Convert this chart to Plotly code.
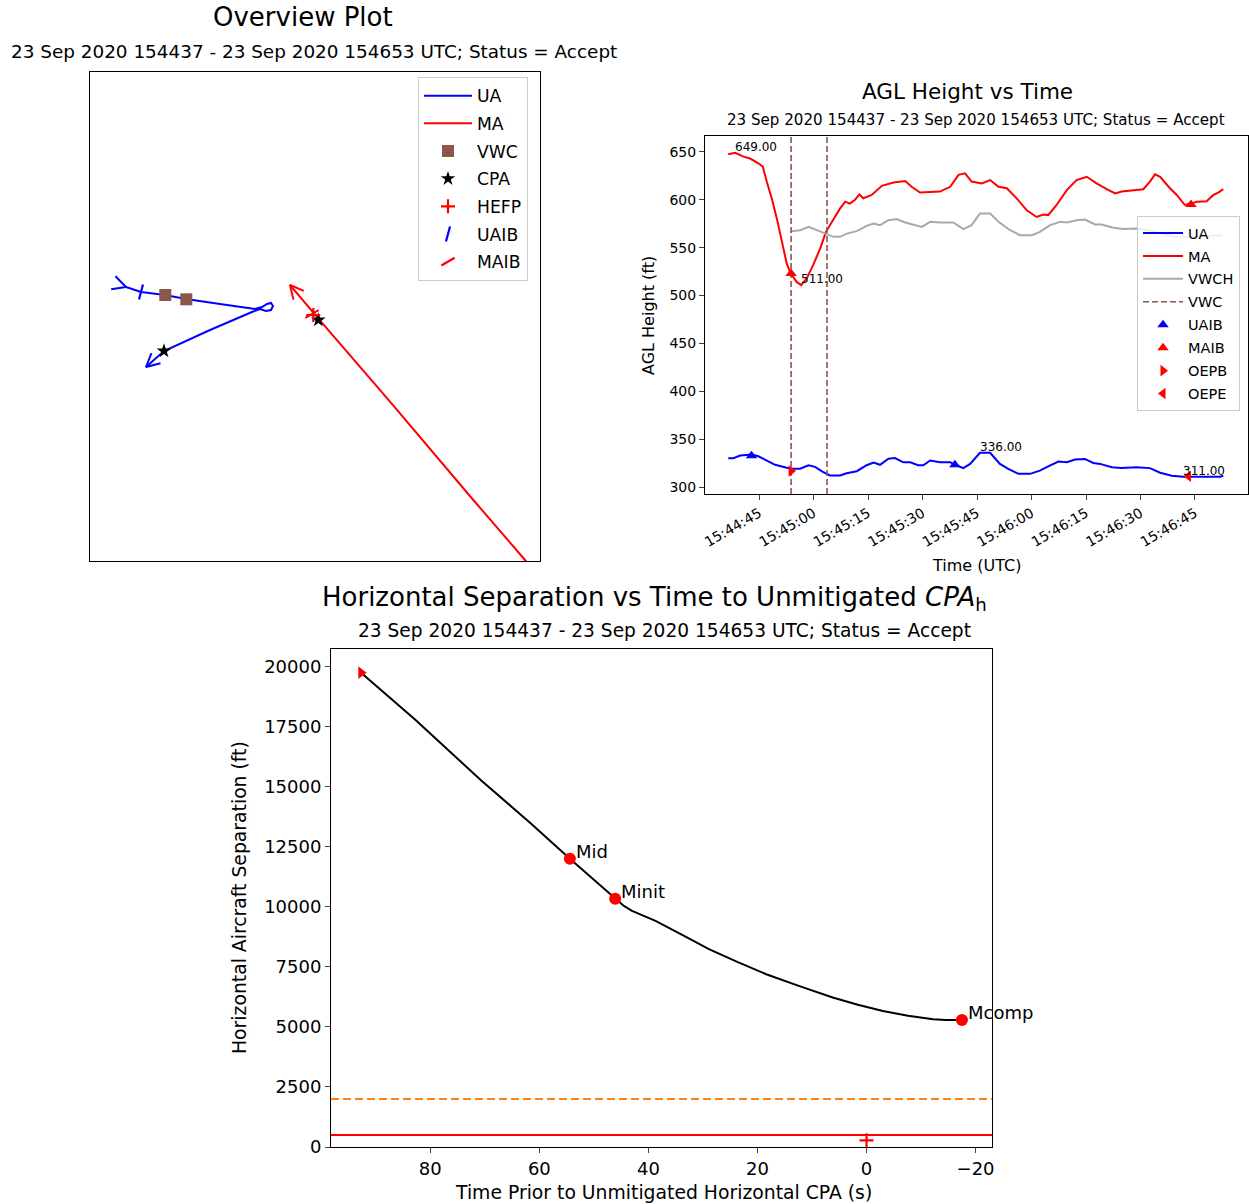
import numpy as np
import pandas as pd
import plotly.graph_objects as go

W, H = 1249, 1204
FONT = "DejaVu Sans"
SUBTITLE = "23 Sep 2020 154437 - 23 Sep 2020 154653 UTC; Status = Accept"

# ---------------- Overview plot data (local ft, east / north) ----------------
ua_x = [370, 520, 760, 970, 1310, 1660, 1730, 1780, 1820, 1840, 1820, 1770, 1710, 1630, 1210, 750, 570]
ua_y = [2740, 2690, 2660, 2620, 2570, 2520, 2540, 2570, 2580, 2550, 2510, 2500, 2520, 2490, 2310, 2100, 1940]
ma_x = [4510, 4360, 3843, 3010, 2277, 2010]
ma_y = [-170, 10, 610, 1593, 2443, 2760]
vwc_x = [763, 973]
vwc_y = [2660, 2617]
cpa_x = [750, 2293]
cpa_y = [2100, 2410]
hefp_x = [2243]
hefp_y = [2460]
uaib_x = [520]
uaib_y = [2690]
maib_x = [2230]
maib_y = [2470]

# ---------------- AGL height vs time data (s after 15:44:45, ft) ----------------
ma_t = [-8.5, -6.6, -4.3, -2.5, -0.2, 1.0, 2.1, 3.5, 4.9, 6.2, 7.6, 8.7, 10.4, 11.6, 13.1, 14.9,
        16.8, 18.4, 20.5, 22.3, 23.7, 25.0, 26.4, 27.6, 28.7, 31.0, 33.8, 37.0, 40.2, 42.0, 44.3,
        49.8, 52.6, 54.9, 56.7, 58.5, 61.3, 63.6, 65.9, 68.2, 70.9, 73.7, 76.4, 78.3, 79.6, 81.9,
        84.7, 87.4, 90.2, 92.9, 95.7, 98.0, 99.8, 103.0, 105.8, 107.6, 109.0, 110.4, 113.1, 115.0,
        117.2, 119.1, 120.5, 123.2, 125.1, 126.4, 127.8]
ma_h = [647.5, 649, 645, 643, 638, 634.5, 619, 601, 580, 556, 533.5, 523, 514, 511, 518, 532,
        549, 566.5, 580.5, 591, 598, 596, 600, 605.5, 601.5, 605, 614.5, 618, 619.5, 613.5, 607.5,
        608.5, 613.5, 626, 627.5, 619, 617, 620.5, 613.5, 612, 601.5, 589, 582, 584.5, 584, 594.5,
        610, 620.5, 624, 617, 611, 606.5, 608.5, 610, 611, 619, 626.5, 624, 612, 605,
        594.5, 596, 598, 598.5, 605, 607.5, 611]
ua_t = [-8.5, -7.1, -5.2, -2.0, -0.2, 2.1, 4.4, 7.6, 9.0, 11.3, 13.6, 15.4, 17.3, 19.5, 22.3, 24.1,
        26.9, 29.6, 31.5, 33.3, 35.6, 37.4, 39.7, 41.6, 43.8, 45.2, 47.1, 49.8, 52.6, 54.0, 56.2,
        58.1, 60.8, 63.6, 66.3, 68.6, 71.4, 74.6, 77.3, 79.6, 82.4, 84.7, 87.0, 89.7, 92.0, 93.9,
        97.1, 99.8, 103.9, 107.6, 110.4, 113.6, 116.8, 119.5, 123.2, 126.9, 127.8]
ua_h = [330.3, 330.3, 333.2, 334.2, 332.4, 328, 323.5, 320.4, 319.4, 319.4, 323, 321.3, 316.6, 312.4, 312.4, 314.7,
        316.8, 323, 325.8, 323.5, 329.8, 330.5, 326.1, 326.1, 323, 323, 328, 326.2, 326.2, 323.5, 320,
        324.4, 336, 336, 324.4, 319.2, 314, 314, 317.4, 321.9, 326.8, 326.1, 328.9, 329.6, 325.4, 324.4,
        321, 320, 321, 320, 315.2, 312, 311, 311, 311, 311, 312]
vwch_t = [8.8, 11.3, 13.6, 15.9, 18.4, 20.5, 22.3, 24.1, 26.9, 29.6, 31.5, 33.3, 35.6, 37.9, 40.2,
          42.5, 44.8, 47.1, 49.8, 53.5, 56.2, 58.5, 60.8, 63.6, 65.9, 69.1, 71.8, 75.1, 77.3, 80.1,
          82.9, 84.7, 87.4, 89.7, 92.5, 94.3, 97.5, 100.3, 103.9, 107.6, 110.4, 114.1, 118.7, 122.8, 127.5]
vwch_h = [567.2, 568.2, 571.7, 568.2, 564.7, 561.3, 561.3, 564.7, 567.2, 572.8, 575.2, 573.5, 578.7, 579.8, 576.3,
          574.2, 571.7, 577, 576.3, 576.3, 569.4, 573.5, 585.6, 585.6, 577, 568.2, 563, 563, 566.5, 573.5,
          577, 576.3, 578.7, 579.4, 574.2, 574.2, 570.7, 569.4, 570.1, 568, 565, 561.3, 561, 562, 563]
vwc_t = [8.8, 18.7]
uaib_t = [-2.1, 53.9]
uaib_h = [333, 323.5]
maib_t = [8.8, 118.9]
maib_h = [523, 595]
oepb_t = [8.8]
oepb_h = [317]
oepe_t = [118.2]
oepe_h = [311.5]

# ---------------- Horizontal separation vs time to CPA ----------------
sep_t = [92.7, 82.8, 70.6, 61.4, 54.4, 49.1, 46.1, 44.5, 43.0, 40.8, 38.7, 33.8, 28.9, 23.6, 18.4,
         12.3, 6.2, 1.6, -3.0, -7.6, -12.2, -14.5, -16.8, -17.5]
sep_h = [19750, 17800, 15250, 13440, 12000, 10950, 10333, 10040, 9833, 9620, 9417, 8830, 8236, 7700, 7195,
         6700, 6225, 5920, 5667, 5470, 5320, 5285, 5280, 5290]
evt_names = ["Mid", "Minit", "Mcomp"]
evt_t = [54.4, 46.1, -17.5]
evt_h = [12000, 10333, 5290]
start_t = [92.7]
start_h = [19750]
hefp2_t = [0]
hefp2_h = [280]
nmac_h = 500
wc_h = 2000
sep_xticks = [80, 60, 40, 20, 0, -20]
sep_xticktext = ["80", "60", "40", "20", "0", "\u221220"]
sep_yticks = [0, 2500, 5000, 7500, 10000, 12500, 15000, 17500, 20000]
sep_yticktext = ["0", "2500", "5000", "7500", "10000", "12500", "15000", "17500", "20000"]
agl_yticks = [300, 350, 400, 450, 500, 550, 600, 650]

base = pd.Timestamp("2020-09-23 15:44:45")


def to_time(secs):
    return [base + pd.Timedelta(seconds=float(s)) for s in secs]


def xd(a, b):
    return [a / W, b / W]


def yd(top, bottom):
    return [1 - bottom / H, 1 - top / H]


def arms(vx, vy, qx, qy, length=150.0, ang=27.0):
    d = np.array([vx - qx, vy - qy], dtype=float)
    d /= np.linalg.norm(d)
    out_x, out_y = [], []
    for s in (1, -1):
        a = np.radians(s * ang)
        r = np.array([d[0] * np.cos(a) - d[1] * np.sin(a), d[0] * np.sin(a) + d[1] * np.cos(a)])
        out_x.append(vx - length * r[0])
        out_y.append(vy - length * r[1])
    return [out_x[0], vx, out_x[1]], [out_y[0], vy, out_y[1]]


fig = go.Figure()

# ---------- Overview ----------
fig.add_trace(go.Scatter(x=ua_x, y=ua_y, mode="lines", line=dict(color="blue", width=2), name="UA",
                         xaxis="x", yaxis="y", legend="legend", legendgroup="o1"))
fig.add_trace(go.Scatter(x=ma_x, y=ma_y, mode="lines", line=dict(color="red", width=2), name="MA",
                         xaxis="x", yaxis="y", legend="legend", legendgroup="o2"))
for px, py, col in ((ua_x, ua_y, "blue"), (ma_x, ma_y, "red")):
    for end in ("start", "end"):
        if end == "start":
            ax_, ay_ = arms(px[0], py[0], 2 * px[0] - px[1], 2 * py[0] - py[1])
        else:
            ax_, ay_ = arms(px[-1], py[-1], px[-2], py[-2])
        fig.add_trace(go.Scatter(x=ax_, y=ay_, mode="lines", line=dict(color=col, width=2),
                                 showlegend=False, hoverinfo="skip", xaxis="x", yaxis="y"))
fig.add_trace(go.Scatter(x=vwc_x, y=vwc_y, mode="markers", name="VWC",
                         marker=dict(symbol="square", size=12, color="#8c564b"),
                         xaxis="x", yaxis="y", legend="legend", legendgroup="o3"))
fig.add_trace(go.Scatter(x=cpa_x, y=cpa_y, mode="markers", name="CPA",
                         marker=dict(symbol="star", size=11, color="black"),
                         xaxis="x", yaxis="y", legend="legend", legendgroup="o4"))
fig.add_trace(go.Scatter(x=hefp_x, y=hefp_y, mode="markers", name="HEFP",
                         marker=dict(symbol="cross-thin", size=10, line=dict(color="red", width=2.2)),
                         xaxis="x", yaxis="y", legend="legend", legendgroup="o5"))
fig.add_trace(go.Scatter(x=uaib_x, y=uaib_y, mode="markers", name="UAIB",
                         marker=dict(symbol="line-ns", size=11, angle=15, line=dict(color="blue", width=2.2)),
                         xaxis="x", yaxis="y", legend="legend", legendgroup="o6"))
fig.add_trace(go.Scatter(x=maib_x, y=maib_y, mode="markers", name="MAIB",
                         marker=dict(symbol="line-ns", size=11, angle=60, line=dict(color="red", width=2.2)),
                         xaxis="x", yaxis="y", legend="legend", legendgroup="o7"))

# ---------- AGL ----------
yr2 = [293.0, 666.5]
fig.add_trace(go.Scatter(x=to_time(ua_t), y=ua_h, mode="lines", line=dict(color="blue", width=2), name="UA",
                         xaxis="x2", yaxis="y2", legend="legend2", legendgroup="a1"))
fig.add_trace(go.Scatter(x=to_time(ma_t), y=ma_h, mode="lines", line=dict(color="red", width=2), name="MA",
                         xaxis="x2", yaxis="y2", legend="legend2", legendgroup="a2"))
fig.add_trace(go.Scatter(x=to_time(vwch_t), y=vwch_h, mode="lines", line=dict(color="#a9a9a9", width=2), name="VWCH",
                         xaxis="x2", yaxis="y2", legend="legend2", legendgroup="a3"))
vx, vy = [], []
for t in to_time(vwc_t):
    vx += [t, t, None]
    vy += [yr2[0], yr2[1], None]
fig.add_trace(go.Scatter(x=vx, y=vy, mode="lines", line=dict(color="#8c564b", width=1.6, dash="6px,3px"), name="VWC",
                         xaxis="x2", yaxis="y2", legend="legend2", legendgroup="a4"))
fig.add_trace(go.Scatter(x=to_time(uaib_t), y=uaib_h, mode="markers", name="UAIB",
                         marker=dict(symbol="triangle-up", size=10, color="blue"),
                         xaxis="x2", yaxis="y2", legend="legend2", legendgroup="a5"))
fig.add_trace(go.Scatter(x=to_time(maib_t), y=maib_h, mode="markers", name="MAIB",
                         marker=dict(symbol="triangle-up", size=10, color="red"),
                         xaxis="x2", yaxis="y2", legend="legend2", legendgroup="a6"))
fig.add_trace(go.Scatter(x=to_time(oepb_t), y=oepb_h, mode="markers", name="OEPB",
                         marker=dict(symbol="triangle-right", size=10, color="red"),
                         xaxis="x2", yaxis="y2", legend="legend2", legendgroup="a7"))
fig.add_trace(go.Scatter(x=to_time(oepe_t), y=oepe_h, mode="markers", name="OEPE",
                         marker=dict(symbol="triangle-left", size=10, color="red"),
                         xaxis="x2", yaxis="y2", legend="legend2", legendgroup="a8"))

annotations = []
for tt, hh, fn in ((ma_t, ma_h, np.argmax), (ma_t, ma_h, np.argmin), (ua_t, ua_h, np.argmax), (ua_t, ua_h, np.argmin)):
    i = int(fn(hh))
    annotations.append(dict(x=to_time([tt[i]])[0], y=hh[i], xref="x2", yref="y2", text=f"{hh[i]:.2f}",
                            showarrow=False, xanchor="left", yanchor="bottom", xshift=-2, yshift=-3,
                            font=dict(size=12, color="black", family=FONT)))

# ---------- Separation ----------
span3 = max(sep_t) - min(sep_t)
xr3 = [max(sep_t) + 0.05 * span3, min(sep_t) - 0.05 * span3]
yr3 = [0, max(sep_h) * 1.05]
fig.add_trace(go.Scatter(x=xr3, y=[wc_h, wc_h], mode="lines", line=dict(color="#ff7f0e", width=2, dash="8px,4px"),
                         showlegend=False, xaxis="x3", yaxis="y3"))
fig.add_trace(go.Scatter(x=xr3, y=[nmac_h, nmac_h], mode="lines", line=dict(color="red", width=2),
                         showlegend=False, xaxis="x3", yaxis="y3"))
fig.add_trace(go.Scatter(x=sep_t, y=sep_h, mode="lines", line=dict(color="black", width=2),
                         showlegend=False, xaxis="x3", yaxis="y3"))
fig.add_trace(go.Scatter(x=start_t, y=start_h, mode="markers", marker=dict(symbol="triangle-right", size=11, color="red"),
                         showlegend=False, xaxis="x3", yaxis="y3"))
fig.add_trace(go.Scatter(x=evt_t, y=evt_h, mode="markers", marker=dict(symbol="circle", size=12, color="red"),
                         showlegend=False, xaxis="x3", yaxis="y3"))
fig.add_trace(go.Scatter(x=hefp2_t, y=hefp2_h, mode="markers",
                         marker=dict(symbol="cross-thin", size=10, line=dict(color="red", width=2.2)),
                         showlegend=False, xaxis="x3", yaxis="y3"))
for n, t, h in zip(evt_names, evt_t, evt_h):
    annotations.append(dict(x=t, y=h, xref="x3", yref="y3", text=n, showarrow=False, xanchor="left",
                            yanchor="middle", xshift=4, yshift=7, font=dict(size=18, color="black", family=FONT)))


def ptext(x, y, text, size, angle=0):
    annotations.append(dict(x=x / W, y=1 - y / H, xref="paper", yref="paper", text=text, showarrow=False,
                            xanchor="center", yanchor="middle", textangle=angle,
                            font=dict(size=size, color="black", family=FONT)))


ptext(303, 17, "Overview Plot", 26)
ptext(314, 51, SUBTITLE, 18.4)
ptext(967, 92, "AGL Height vs Time", 21.5)
ptext(976, 120, SUBTITLE, 15.1)
ptext(648, 315, "AGL Height (ft)", 16, -90)
ptext(976, 565, "Time (UTC)", 16)
ptext(654, 598, "Horizontal Separation vs Time to Unmitigated <i>CPA</i><sub>h</sub>", 26)
ptext(664, 630, SUBTITLE, 18.6)
ptext(240, 898, "Horizontal Aircraft Separation (ft)", 18.8, -90)
ptext(663, 1192, "Time Prior to Unmitigated Horizontal CPA (s)", 18.8)

axcommon = dict(showgrid=False, zeroline=False, showline=True, mirror=True, linecolor="black", linewidth=1)

fig.update_layout(
    width=W, height=H, margin=dict(l=0, r=0, t=0, b=0, autoexpand=False),
    paper_bgcolor="white", plot_bgcolor="white",
    font=dict(family=FONT, color="black"),
    xaxis=dict(domain=xd(90, 540), range=[10, 4510], showticklabels=False, ticks="", **axcommon),
    yaxis=dict(domain=yd(72, 561), range=[0, 4890], showticklabels=False, ticks="", **axcommon),
    xaxis2=dict(domain=xd(705, 1248), anchor="y2", type="date",
                range=[base + pd.Timedelta(seconds=-14.9), base + pd.Timedelta(seconds=134.6)],
                tick0=base, dtick=15000, tickformat="%H:%M:%S", tickangle=-30,
                ticks="outside", ticklen=5, tickfont=dict(size=14), **axcommon),
    yaxis2=dict(domain=yd(136, 494), anchor="x2", range=yr2, tickvals=agl_yticks,
                ticks="outside", ticklen=5, tickfont=dict(size=14), **axcommon),
    xaxis3=dict(domain=xd(331, 992), anchor="y3", range=xr3, tickvals=sep_xticks, ticktext=sep_xticktext,
                ticks="outside", ticklen=5, tickfont=dict(size=18), **axcommon),
    yaxis3=dict(domain=yd(649, 1147), anchor="x3", range=yr3, tickvals=sep_yticks, ticktext=sep_yticktext,
                ticks="outside", ticklen=5, tickfont=dict(size=18), **axcommon),
    legend=dict(x=418 / W, y=1 - 77 / H, xanchor="left", yanchor="top", bgcolor="rgba(255,255,255,0.8)",
                bordercolor="#cccccc", borderwidth=1, font=dict(size=17.2), itemwidth=48,
                tracegroupgap=2.3, traceorder="grouped"),
    legend2=dict(x=1240 / W, y=1 - 216 / H, xanchor="right", yanchor="top", bgcolor="rgba(255,255,255,0.8)",
                 bordercolor="#cccccc", borderwidth=1, font=dict(size=14.5), itemwidth=40,
                 tracegroupgap=1.1, traceorder="grouped"),
    annotations=annotations,
    showlegend=True,
)

fig.write_html("out.html")
